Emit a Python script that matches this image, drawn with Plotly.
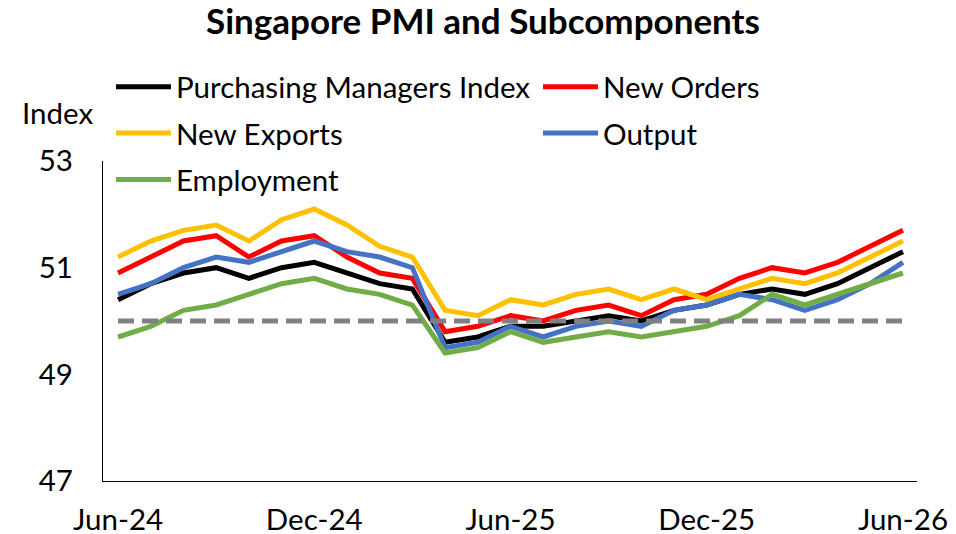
import plotly.graph_objects as go

months = ["Jun-24", "Jul-24", "Aug-24", "Sep-24", "Oct-24", "Nov-24", "Dec-24",
          "Jan-25", "Feb-25", "Mar-25", "Apr-25", "May-25", "Jun-25", "Jul-25",
          "Aug-25", "Sep-25", "Oct-25", "Nov-25", "Dec-25", "Jan-26", "Feb-26",
          "Mar-26", "Apr-26", "May-26", "Jun-26"]
tick_labels = ["Jun-24", "Dec-24", "Jun-25", "Dec-25", "Jun-26"]

pmi = [50.4, 50.7, 50.9, 51.0, 50.8, 51.0, 51.1, 50.9, 50.7, 50.6, 49.6, 49.7, 49.9,
       49.9, 50.0, 50.1, 50.0, 50.2, 50.3, 50.5, 50.6, 50.5, 50.7, 51.0, 51.3]
new_orders = [50.9, 51.2, 51.5, 51.6, 51.2, 51.5, 51.6, 51.2, 50.9, 50.8, 49.8, 49.9, 50.1,
              50.0, 50.2, 50.3, 50.1, 50.4, 50.5, 50.8, 51.0, 50.9, 51.1, 51.4, 51.7]
new_exports = [51.2, 51.5, 51.7, 51.8, 51.5, 51.9, 52.1, 51.8, 51.4, 51.2, 50.2, 50.1, 50.4,
               50.3, 50.5, 50.6, 50.4, 50.6, 50.4, 50.6, 50.8, 50.7, 50.9, 51.2, 51.5]
output = [50.5, 50.7, 51.0, 51.2, 51.1, 51.3, 51.5, 51.3, 51.2, 51.0, 49.5, 49.6, 49.9,
          49.7, 49.9, 50.0, 49.9, 50.2, 50.3, 50.5, 50.4, 50.2, 50.4, 50.7, 51.1]
employment = [49.7, 49.9, 50.2, 50.3, 50.5, 50.7, 50.8, 50.6, 50.5, 50.3, 49.4, 49.5, 49.8,
              49.6, 49.7, 49.8, 49.7, 49.8, 49.9, 50.1, 50.5, 50.3, 50.5, 50.7, 50.9]
threshold = [50.0] * len(months)

FONT = "Lato"
FS = 29.5
LW = 5

# page body has an 8px default margin: figure is sized to fill the rest of the window
W, H = 948, 526
PL, PT, PW, PH = 95, 153, 814, 320  # plot area in figure pixels

series = [
    ("Purchasing Managers Index", pmi, "#000000", "legend"),
    ("New Orders", new_orders, "#FF0000", "legend2"),
    ("New Exports", new_exports, "#FFC000", "legend"),
    ("Output", output, "#4472C4", "legend2"),
    ("Employment", employment, "#70AD47", "legend"),
]

fig = go.Figure()
for name, vals, color, leg in series:
    fig.add_trace(go.Scatter(
        x=months, y=vals, mode="lines", name=name, legend=leg, legendgroup=name,
        line=dict(color=color, width=LW),
    ))
fig.add_trace(go.Scatter(
    x=months, y=threshold, mode="lines", showlegend=False, hoverinfo="skip",
    line=dict(color="#808080", width=LW, dash="16px,8px"),
))

legend_common = dict(
    font=dict(family=FONT, size=FS, color="#000000"),
    bgcolor="rgba(0,0,0,0)", orientation="v", xanchor="left", yanchor="top",
    tracegroupgap=5, itemwidth=55, traceorder="grouped",
)

fig.update_layout(
    width=W, height=H,
    margin=dict(l=PL, r=W - PL - PW, t=PT, b=H - PT - PH, pad=0, autoexpand=False),
    paper_bgcolor="white", plot_bgcolor="white",
    font=dict(family=FONT, size=FS, color="#000000"),
    title=dict(text="<b>Singapore PMI and Subcomponents</b>", x=475 / W, xanchor="center",
               y=1 - 14 / H, yanchor="middle", yref="container",
               font=dict(family=FONT, size=35, color="#000000")),
    showlegend=True,
    legend=dict(x=8 / PW, y=1 + 100 / PH, **legend_common),
    legend2=dict(x=435 / PW, y=1 + 100 / PH, **legend_common),
    xaxis=dict(type="category", range=[-0.46, 24.43], tickmode="array",
               tickvals=tick_labels, ticktext=tick_labels, showgrid=False,
               showline=True, linecolor="#000000", linewidth=1.3, ticks="",
               ticklabelstandoff=12, zeroline=False, automargin=False,
               tickfont=dict(family=FONT, size=FS)),
    yaxis=dict(range=[47, 53], tickvals=[47, 49, 51, 53], showgrid=False,
               showline=True, linecolor="#000000", linewidth=1.3, ticks="",
               ticklabelstandoff=23, zeroline=False, automargin=False,
               tickfont=dict(family=FONT, size=FS)),
    annotations=[dict(text="Index", xref="paper", yref="paper", x=(57 - 103) / PW,
                      y=(481 - 112) / PH, xanchor="center", yanchor="middle",
                      showarrow=False, font=dict(family=FONT, size=FS))],
)

fig.write_html("out.html")
